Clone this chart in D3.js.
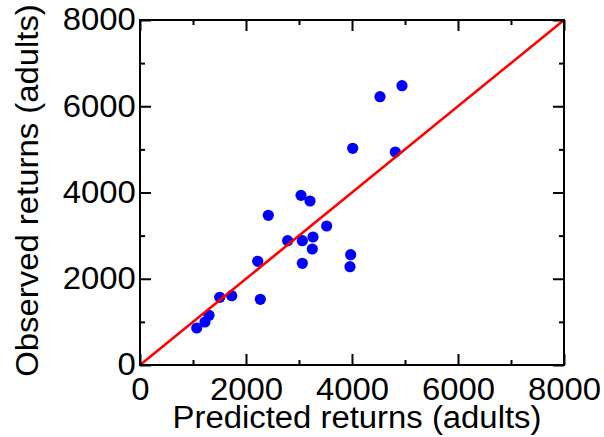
<!DOCTYPE html>
<html>
<head>
<meta charset="utf-8">
<script src="https://cdn.jsdelivr.net/npm/d3@7"></script>
<style>
  body { margin: 0; background: #fff; }
  text { font-family: "Liberation Sans", Arial, sans-serif; fill: #000; }
</style>
</head>
<body>
<div id="chart"></div>
<script>
// predicted vs observed adult returns
const predicted = [1070, 1226, 1302, 1504, 1730, 2270, 2221, 2421, 2786, 3038,
                   3208, 3063, 3063, 3264, 3251, 3522, 3975, 3962, 4013, 4528,
                   4817, 4943];
const observed  = [858, 997, 1152, 1570, 1607, 1523, 2405, 3471, 2883, 3934,
                   3803, 2883, 2358, 2968, 2690, 3223, 2558, 2280, 5025, 6222,
                   4939, 6477];
const majorTicks = [0, 2000, 4000, 6000, 8000];
const minorTicks = [1000, 3000, 5000, 7000];
const axisMax = 8000;

let svgWidth = 604,
    svgHeight = 437;
let margins = {left: 140, top: 20, right: 40, bottom: 72},
    width = svgWidth - margins.left - margins.right,
    height = svgHeight - margins.top - margins.bottom;
const stretch = "scale(1.06,1)";

let data = predicted.map((p, i) => ({x: p, y: observed[i]}));

let x = d3.scaleLinear().domain([0, axisMax]).range([0, width]),
    y = d3.scaleLinear().domain([0, axisMax]).range([height, 0]);

let svg = d3.select("#chart").append("svg")
    .attr("width", svgWidth)
    .attr("height", svgHeight)
    .append("g")
    .attr("transform", `translate(${margins.left}, ${margins.top})`);

//points
svg.append("g")
    .selectAll("circle")
    .data(data)
    .enter().append("circle")
    .attr("cx", d => x(d.x))
    .attr("cy", d => y(d.y))
    .attr("r", 5.6)
    .attr("fill", "#0000ff");

//1:1 line
svg.append("path")
    .datum([0, axisMax])
    .attr("d", d3.line().x(d => x(d)).y(d => y(d)))
    .attr("stroke", "#ff0000")
    .attr("stroke-width", 2.6)
    .attr("fill", "none");

//axes, ticks pointing inward on all four sides
function styleAxis(g) {
    g.select(".domain").remove();
    g.selectAll(".tick line").attr("stroke", "#000").attr("stroke-width", 2);
    g.selectAll("text")
        .style("font-size", "31px")
        .attr("transform", stretch);
}

svg.append("g")
    .attr("transform", `translate(0, ${height})`)
    .call(d3.axisBottom(x).tickValues(majorTicks).tickSize(-11).tickPadding(13).tickFormat(d3.format("d")))
    .call(styleAxis);
svg.append("g")
    .call(d3.axisLeft(y).tickValues(majorTicks).tickSize(-11).tickPadding(4).tickFormat(d3.format("d")))
    .call(styleAxis);
svg.append("g")
    .call(d3.axisTop(x).tickValues(majorTicks).tickSize(-11).tickFormat(""))
    .call(styleAxis);
svg.append("g")
    .attr("transform", `translate(${width}, 0)`)
    .call(d3.axisRight(y).tickValues(majorTicks).tickSize(-11).tickFormat(""))
    .call(styleAxis);

//minor ticks
svg.append("g")
    .attr("transform", `translate(0, ${height})`)
    .call(d3.axisBottom(x).tickValues(minorTicks).tickSize(-5).tickFormat(""))
    .call(styleAxis);
svg.append("g")
    .call(d3.axisTop(x).tickValues(minorTicks).tickSize(-5).tickFormat(""))
    .call(styleAxis);
svg.append("g")
    .call(d3.axisLeft(y).tickValues(minorTicks).tickSize(-5).tickFormat(""))
    .call(styleAxis);
svg.append("g")
    .attr("transform", `translate(${width}, 0)`)
    .call(d3.axisRight(y).tickValues(minorTicks).tickSize(-5).tickFormat(""))
    .call(styleAxis);

//frame
svg.append("rect")
    .attr("width", width)
    .attr("height", height)
    .attr("fill", "none")
    .attr("stroke", "#000")
    .attr("stroke-width", 2);

//axis titles
svg.append("text")
    .attr("transform", `translate(${width / 2 + 5}, ${height + 63}) ${stretch}`)
    .attr("text-anchor", "middle")
    .style("font-size", "31px")
    .text("Predicted returns (adults)");

svg.append("text")
    .attr("transform", `translate(-102, ${height / 2 - 2}) rotate(-90) ${stretch}`)
    .attr("text-anchor", "middle")
    .style("font-size", "31px")
    .text("Observed returns (adults)");
</script>
</body>
</html>
